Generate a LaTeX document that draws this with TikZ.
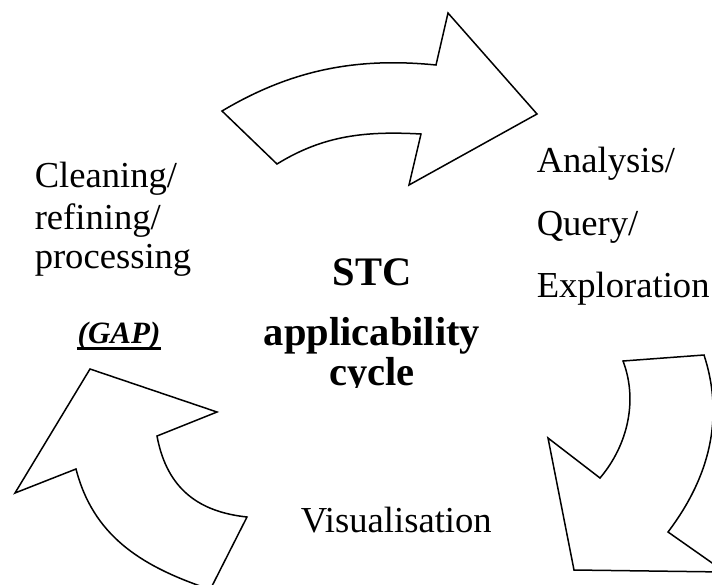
\documentclass[tikz,border=0pt]{standalone}
\usepackage{fontspec}
\setmainfont{Liberation Serif}
\usepackage{tikz}

\begin{document}
\begin{tikzpicture} [x=1pt, y=-1pt, line width=1.5pt, line join=miter,
                    bigarrow/.style={draw=black, fill=white},
                    phase/.style={inner sep=0pt, anchor=base west, font=\fontsize{36.6}{40}\selectfont},
                    title/.style={inner sep=0pt, anchor=base, font=\fontsize{40.5}{44}\selectfont\bfseries},
                    gap/.style={inner sep=0pt, anchor=base, font=\fontsize{31}{34}\selectfont\bfseries\itshape}]

\useasboundingbox (0,0) rectangle (712,584);

% the three curved block arrows of the cycle
\begin{scope}
\clip (0,0) rectangle (712,584);
% top: towards analysis
\draw[bigarrow] (222,111) .. controls (291,70) and (356,57) .. (436,65)
    -- (448,13) -- (537,114) -- (409,185) -- (421,134)
    .. controls (366,131) and (324,135) .. (277,164) -- cycle;
% right: down towards visualisation
\draw[bigarrow] (623,361) -- (704,355)
    .. controls (722,410) and (715,470) .. (668,532)
    -- (725,572) -- (574,570) -- (548,438) -- (600,478)
    .. controls (628,445) and (638,400) .. (623,361) -- cycle;
% bottom left: back up to cleaning
\draw[bigarrow] (90,369) -- (217,412) -- (157,436)
    .. controls (167,490) and (200,512) .. (247,517)
    -- (211,588) -- (203,587)
    .. controls (140,565) and (93,535) .. (76,469)
    -- (15,493) -- cycle;
\end{scope}

% phase labels
\node[phase] (clean1) at (34,187) {Cleaning/};
\node[phase] (clean2) at ([yshift=-42pt]clean1.base west) {refining/};
\node[phase] (clean3) at ([yshift=-39pt]clean2.base west) {processing};
\node[gap] (gap) at (119,343) {(GAP)};
\draw[line width=3.2pt] ([yshift=-5.5pt]gap.base west) -- ([yshift=-5.5pt]gap.base east);

\node[phase] (ana1) at (536,172) {Analysis/};
\node[phase] (ana2) at ([yshift=-63pt]ana1.base west) {Query/};
\node[phase] (ana3) at ([yshift=-62pt]ana2.base west) {Exploration};

\node[phase] (vis) at (300,532) {Visualisation};

% centre title, cut off at the bottom of its box
\begin{scope}
\clip (240,230) rectangle (500,387);
\node[title] (stc1) at (372,285) {STC};
\node[title] (stc2) at ([yshift=-60pt]stc1.base) {applicability};
\node[title] (stc3) at ([yshift=-40pt]stc2.base) {cycle};
\end{scope}
\end{tikzpicture}
\end{document}
